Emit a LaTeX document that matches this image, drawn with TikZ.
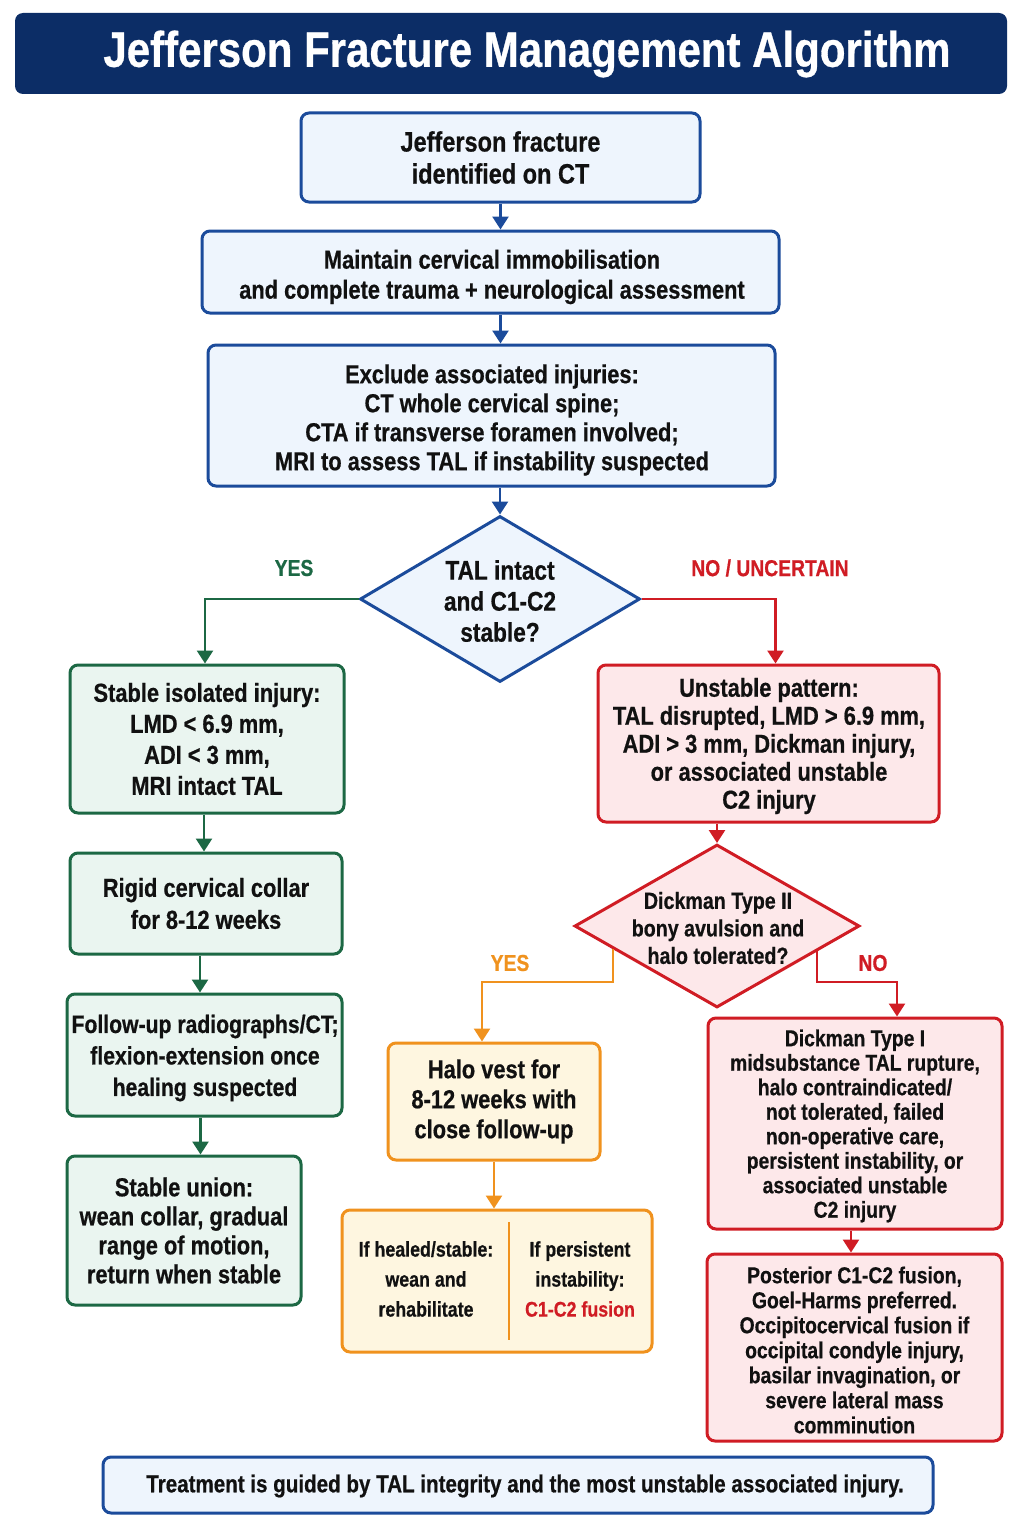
\documentclass[tikz,border=0pt]{standalone}
\usepackage{fontspec}
\setmainfont{Liberation Sans}[FakeStretch=0.84, BoldFeatures={FakeBold=0.6}]
\usetikzlibrary{shapes.geometric,arrows.meta,calc}
\definecolor{titleblue}{RGB}{12,45,102}
\definecolor{blueline}{RGB}{27,75,155}
\definecolor{bluefill}{RGB}{238,245,253}
\definecolor{greenline}{RGB}{28,104,68}
\definecolor{greenfill}{RGB}{234,245,240}
\definecolor{redline}{RGB}{208,28,36}
\definecolor{redfill}{RGB}{253,232,234}
\definecolor{orangeline}{RGB}{240,146,30}
\definecolor{orangefill}{RGB}{254,246,224}
\definecolor{txt}{RGB}{17,17,17}
\newcommand\fsz[2]{\fontsize{#1}{#2}\selectfont\bfseries}
\begin{document}
\begin{tikzpicture}[x=0.5pt,y=-0.5pt,
  sz/.style 2 args={minimum width=#1*0.5pt, minimum height=#2*0.5pt},
  box/.style={draw, rounded corners=4pt, line width=1.5pt, align=center, inner sep=1pt, text=txt},
  bluebox/.style={box, draw=blueline, fill=bluefill},
  greenbox/.style={box, draw=greenline, fill=greenfill},
  redbox/.style={box, draw=redline, fill=redfill},
  orangebox/.style={box, draw=orangeline, fill=orangefill},
  dia/.style={diamond, draw, line width=1.5pt, inner sep=0pt},
  txtnode/.style={align=center, text=txt, inner sep=0pt},
  arrbase/.style={line width=1.3pt, -{Triangle[width=8pt,length=6.5pt]}},
  barr/.style={arrbase, draw=blueline},
  garr/.style={arrbase, draw=greenline},
  rarr/.style={arrbase, draw=redline},
  oarr/.style={arrbase, draw=orangeline},
  lbl/.style={font=\fsz{11.5}{13}, inner sep=0pt}
]
\useasboundingbox (0,0) rectangle (1024,1536);
\fill[white] (0,0) rectangle (1024,1536);

% title
\node[fill=titleblue, rounded corners=4pt, sz={992}{81}] (title) at (511,53.5) {};
\node[text=white, font=\fsz{25}{28}, inner sep=0pt] (titletext) at (527,54) {Jefferson Fracture Management Algorithm};

% main column
\node[bluebox, sz={399}{89}, font=\fsz{14}{16}] (box1) at (500.5,157.5) {Jefferson fracture\\identified on CT};
\node[bluebox, sz={577}{82}] (box2) at (490.5,272) {};
\node[txtnode, font=\fsz{13}{15}] (box2t) at (492,277) {Maintain cervical immobilisation\\and complete trauma + neurological assessment};
\node[bluebox, sz={567}{141}] (box3) at (491.5,415.5) {};
\node[txtnode, font=\fsz{13}{14.5}] (box3t) at (492,420) {Exclude associated injuries:\\CT whole cervical spine;\\CTA if transverse foramen involved;\\MRI to assess TAL if instability suspected};

\node[dia, draw=blueline, fill=bluefill, sz={280}{166}] (d1) at (500,599) {};
\node[txtnode, font=\fsz{13.5}{15.5}] (d1t) at (500,601) {TAL intact\\and C1-C2\\stable?};

% left (green) column
\node[greenbox, sz={274}{148}, font=\fsz{13}{15.5}] (box4) at (207,739) {Stable isolated injury:\\LMD < 6.9 mm,\\ADI < 3 mm,\\MRI intact TAL};
\node[greenbox, sz={272}{101}, font=\fsz{13}{16}] (box5) at (206,903.5) {Rigid cervical collar\\for 8-12 weeks};
\node[greenbox, sz={275}{122}] (box6) at (204.5,1055) {};
\node[txtnode, font=\fsz{12.6}{15.75}] (box6t) at (205,1058) {Follow-up radiographs/CT;\\flexion-extension once\\healing suspected};
\node[greenbox, sz={234}{149}, font=\fsz{13}{14.5}] (box7) at (184,1230.5) {Stable union:\\wean collar, gradual\\range of motion,\\return when stable};

% right (red) column
\node[redbox, sz={341}{157}] (box8) at (768.5,743.5) {};
\node[txtnode, font=\fsz{13}{14}] (box8t) at (769,746) {Unstable pattern:\\TAL disrupted, LMD > 6.9 mm,\\ADI > 3 mm, Dickman injury,\\or associated unstable\\C2 injury};
\node[dia, draw=redline, fill=redfill, sz={285}{163}] (d2) at (717,926) {};
\node[txtnode, font=\fsz{11.7}{13.75}] (d2t) at (718,928) {Dickman Type II\\bony avulsion and\\halo tolerated?};

\node[orangebox, sz={212}{117}, font=\fsz{13}{15}] (halo) at (494,1101.5) {Halo vest for\\8-12 weeks with\\close follow-up};
\node[orangebox, sz={310}{142}] (split) at (497,1281) {};
\draw[orangeline, line width=1.4pt] (509,1222) -- (509,1340);
\node[txtnode, font=\fsz{10.6}{15}] (splitl) at (426,1279) {If healed/stable:\\wean and\\rehabilitate};
\node[txtnode, font=\fsz{10.6}{15}] (splitr) at (580,1279) {If persistent\\instability:\\\textcolor{redline}{C1-C2 fusion}};

\node[redbox, sz={294}{211}] (box9) at (855,1123.5) {};
\node[txtnode, font=\fsz{11.5}{12.25}] (box9t) at (855,1126) {Dickman Type I\\midsubstance TAL rupture,\\halo contraindicated/\\not tolerated, failed\\non-operative care,\\persistent instability, or\\associated unstable\\C2 injury};
\node[redbox, sz={295}{187}] (box10) at (854.5,1347.5) {};
\node[txtnode, font=\fsz{11.5}{12.5}] (box10t) at (854.5,1350) {Posterior C1-C2 fusion,\\Goel-Harms preferred.\\Occipitocervical fusion if\\occipital condyle injury,\\basilar invagination, or\\severe lateral mass\\comminution};

% bottom note
\node[bluebox, sz={830}{56}] (note) at (518,1485) {};
\node[txtnode, font=\fsz{12.25}{14}] (notet) at (525,1486) {Treatment is guided by TAL integrity and the most unstable associated injury.};

% labels
\node[lbl, text=greenline] (yes1) at (294,568) {YES};
\node[lbl, text=redline] (no1) at (770,568) {NO / UNCERTAIN};
\node[lbl, text=orangeline] (yes2) at (510,963) {YES};
\node[lbl, text=redline] (no2) at (873,963) {NO};

% connectors
\draw[barr] (box1.south) -- (box1.south |- box2.north);
\draw[barr] (box1.south |- box2.south) -- (box1.south |- box3.north);
\draw[barr] (d1.north |- box3.south) -- (d1.north);

\draw[garr] (d1.west) -| ([xshift=-1pt]box4.north);
\draw[rarr] (d1.east) -| ([xshift=3.5pt]box8.north);

\draw[garr] ([xshift=-1.5pt]box4.south) -- ([xshift=-1.5pt]box4.south |- box5.north);
\draw[garr] ([xshift=-3pt]box5.south) -- ([xshift=-3pt]box5.south |- box6.north);
\draw[garr] ([xshift=-2pt]box6.south) -- ([xshift=-2pt]box6.south |- box7.north);

\draw[rarr] (d2.north |- box8.south) -- (d2.north);
\coordinate (d2y) at ($(d2.west)!0.277!(d2.south)$);
\coordinate (d2n) at ($(d2.east)!0.306!(d2.south)$);
\coordinate (ybend) at (0,982);
\draw[oarr] (d2y) -- (d2y |- ybend) -| ([xshift=-6pt]halo.north);
\draw[rarr] (d2n) -- (d2n |- ybend) -| ([xshift=21pt]box9.north);

\draw[oarr] (halo.south) -- (halo.south |- split.north);
\draw[rarr] ([xshift=-2pt]box9.south) -- ([xshift=-2pt]box9.south |- box10.north);
\end{tikzpicture}
\end{document}
